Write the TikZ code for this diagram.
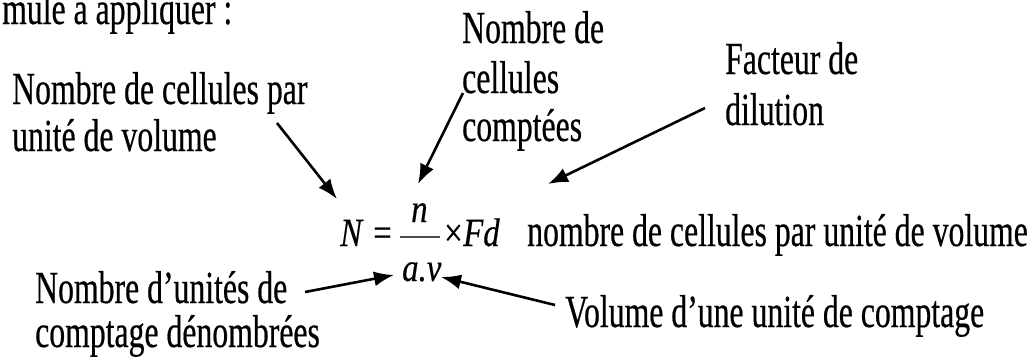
\documentclass[tikz,border=0pt]{standalone}
\usepackage{fontspec}
\setmainfont[FakeStretch=0.69,FakeBold=0.4]{Liberation Serif}
\newfontfamily\frmfont[FakeStretch=0.82,FakeBold=0.4]{Liberation Serif}
\usetikzlibrary{arrows.meta}
\begin{document}
\begin{tikzpicture}[x=1pt,y=-1pt,
  lbl/.style={anchor=base west, inner sep=0pt, font=\fontsize{46}{50}\selectfont},
  frm/.style={anchor=base west, inner sep=0pt, font=\frmfont\fontsize{40}{44}\selectfont\itshape},
  frmup/.style={anchor=base west, inner sep=0pt, font=\frmfont\fontsize{40}{44}\selectfont},
  arr/.style={line width=2.6pt, -{Latex[length=20pt,width=15pt]}}]
\useasboundingbox (0,0) rectangle (1030,360);

% labels
\node[lbl] (top) at (2,24) {mule à appliquer :};
\node[lbl] (c1a) at (12,104) {Nombre de cellules par};
\node[lbl] (c1b) at (12,151) {unité de volume};
\node[lbl] (c2a) at (462,43) {Nombre de};
\node[lbl] (c2b) at (462,93) {cellules};
\node[lbl] (c2c) at (462,141) {comptées};
\node[lbl] (c3a) at (725,74) {Facteur de};
\node[lbl] (c3b) at (725,125) {dilution};
\node[lbl] (desc) at (527,246) {nombre de cellules par unité de volume};
\node[lbl] (c4a) at (35,303) {Nombre d’unités de};
\node[lbl] (c4b) at (35,347) {comptage dénombrées};
\node[lbl] (c5) at (565,327) {Volume d’une unité de comptage};

% formula
\node[frm] (fN) at (340,246) {N};
\node[frmup] (feq) at (373,246) {=};
\draw[line width=2pt, black!70] (400,237) coordinate (barL) -- (440,237) coordinate (barR);
\node[frm] (fn) at (411,222) {n};
\node[frmup] (ftimes) at (444,246) {×};
\node[frm] (fFd) at (463,246) {Fd};
\node[frm] (fav) at (402,281) {a.v};

% arrows
\coordinate (s1) at (277,123); \coordinate (e1) at (337,199);
\coordinate (s2) at (463,93);  \coordinate (e2) at (418,184);
\coordinate (s3) at (705,108); \coordinate (e3) at (548,184);
\coordinate (s4) at (305,292); \coordinate (e4) at (394,275);
\coordinate (s5) at (555,305); \coordinate (e5) at (441,277);
\draw[arr] (s1) -- (e1);
\draw[arr] (s2) -- (e2);
\draw[arr] (s3) -- (e3);
\draw[arr] (s4) -- (e4);
\draw[arr] (s5) -- (e5);
\end{tikzpicture}
\end{document}
